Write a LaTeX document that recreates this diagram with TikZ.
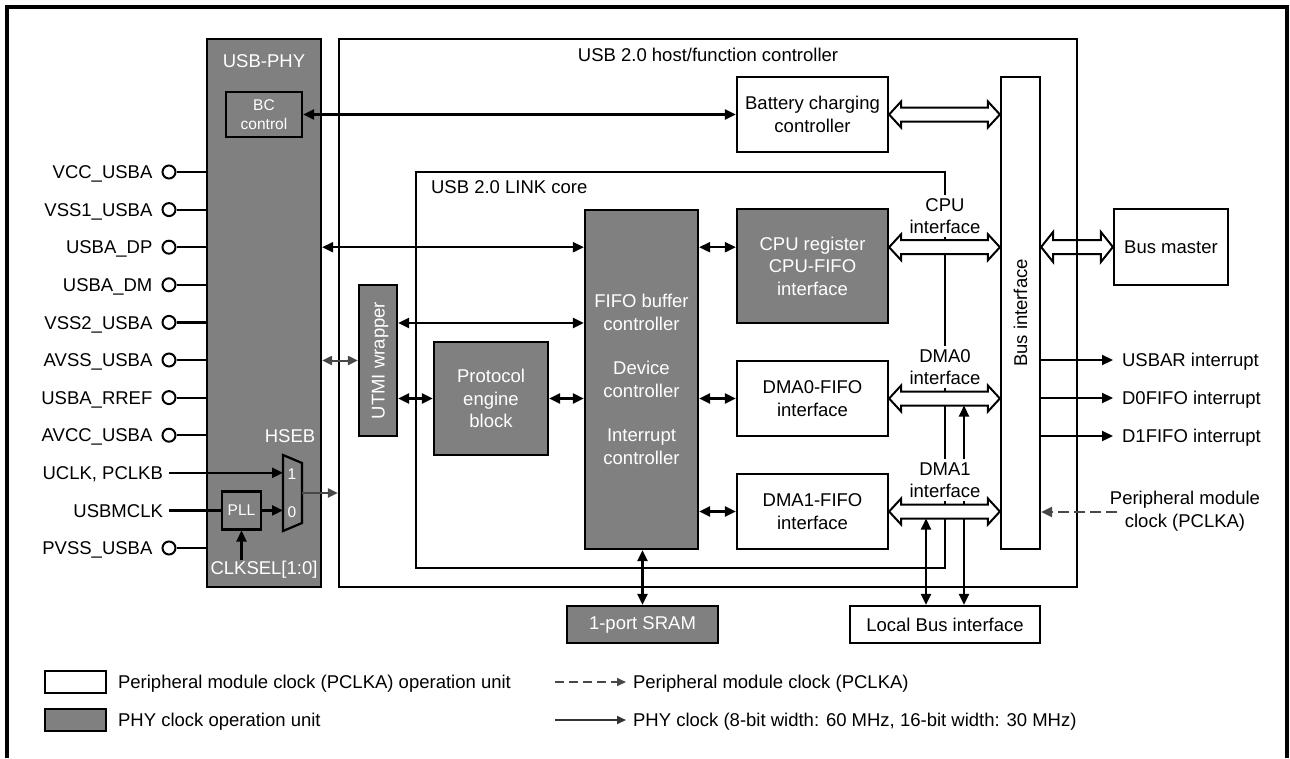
\documentclass[tikz,border=0pt]{standalone}
\usepackage{fontspec}
\setmainfont{Liberation Sans}
\usepackage{tikz}
\usetikzlibrary{arrows.meta, positioning, calc}

\definecolor{phygray}{RGB}{128,128,128}
\definecolor{wiregray}{RGB}{72,72,72}

\tikzset{
  block/.style={draw, inner sep=0pt},
  pclkunit/.style={draw, fill=white, align=center, inner sep=0pt},
  phyunit/.style={pclkunit, fill=phygray, text=white},
  smalltext/.style={font=\fontsize{15.5}{19}\selectfont},
  lbl/.style={inner sep=0pt, text height=13.3pt, text depth=0pt},
  iflbl/.style={fill=white, align=center, inner sep=3pt},
  pad/.style={draw, circle, fill=white, line width=2pt, minimum size=13pt, inner sep=0pt},
  graywire/.style={draw=wiregray, line width=2pt, >={Triangle[length=10pt,width=9pt]}},
  pclkwire/.style={draw=wiregray, line width=2.4pt, dash pattern=on 11pt off 5pt},
  busarrow/.style={line width=2pt, fill=white, to path={let \p1=(\tikztostart), \p2=(\tikztotarget) in
      (\x1,\y1) -- (\x1+12pt,\y1+#1pt) -- (\x1+12pt,\y1+7pt) -- (\x2-12pt,\y1+7pt) -- (\x2-12pt,\y1+#1pt)
      -- (\x2,\y1) -- (\x2-12pt,\y1-#1pt) -- (\x2-12pt,\y1-7pt) -- (\x1+12pt,\y1-7pt) -- (\x1+12pt,\y1-#1pt) -- cycle}},
  busarrow/.default=13
}

\begin{document}
\begin{tikzpicture}[x=1pt, y=-1pt, line width=2.2pt, font=\fontsize{18.5}{22.5}\selectfont,
    >={Triangle[length=11pt,width=10pt]}]
  \useasboundingbox (0,0) rectangle (1290,758);
  % outer frame, open at the bottom
  \draw[line width=3.2pt] (7,758) -- (7,7) -- (1287,7) -- (1287,758);

  % USB-PHY
  \node[phyunit, minimum width=114pt, minimum height=548pt] (phy) at (264,313) {};
  \node[lbl, anchor=base, text=white] (phy-t) at (264,67) {USB-PHY};
  \node[phyunit, smalltext, minimum width=76pt, minimum height=45pt] (bc) at (264,114.5) {BC\\control};
  \node[phyunit, smalltext, minimum width=39pt, minimum height=38pt] (pll) at (241.5,510.4) {PLL};
  \draw (283,455) -- (302,463) -- (302,523) -- (283,531) -- cycle;
  \coordinate (mux-in1) at (283,472.8);
  \coordinate (mux-in0) at (283,510.4);
  \coordinate (mux-out) at (302,493);
  \node[lbl, smalltext, text=white] (mux-1) at (292,473) {1};
  \node[lbl, smalltext, text=white] (mux-0) at (292,511) {0};
  \node[lbl, text=white] (hseb) at (290,436) {HSEB};
  \node[lbl, text=white] (clksel) at (264,568) {CLKSEL[1:0]};

  % pins
  \foreach \nm/\txt/\i in {vcc/VCC\_USBA/0, vssa/VSS1\_USBA/1, dp/USBA\_DP/2, dm/USBA\_DM/3,
      vssb/VSS2\_USBA/4, avss/AVSS\_USBA/5, rref/USBA\_RREF/6, avcc/AVCC\_USBA/7, pvss/PVSS\_USBA/10}{
    \node[pad] (\nm) at (169,{172+37.6*\i}) {};
    \node[lbl, left=8pt of \nm] (\nm-t) {\txt};
    \draw (\nm.east) -- (\nm.east -| phy.west);
  }
  \node[lbl, anchor=east] (uclk) at (164,472.8) {UCLK, PCLKB};
  \node[lbl, anchor=east] (mclk) at (164,510.4) {USBMCLK};
  \draw[->] ([xshift=5pt]uclk.east) -- (mux-in1);
  \draw ([xshift=5pt]mclk.east) -- (pll.west);
  \draw[->] (pll.east) -- (mux-in0);
  \draw[->] (clksel.north -| pll.south) -- (pll.south);

  % controller and link core
  \node[block, minimum width=738pt, minimum height=548pt] (ctrl) at (708,313) {};
  \node[lbl, anchor=base] (ctrl-t) at (708,61) {USB 2.0 host/function controller};
  \draw (416,172) rectangle (945,568);
  \node[lbl, anchor=base west] (link-t) at (430,193) {USB 2.0 LINK core};

  \node[pclkunit, minimum width=151pt, minimum height=75pt] (batt) at (812.5,114.5) {Battery charging\\controller};
  \node[pclkunit, minimum width=39pt, minimum height=472pt] (bus) at (1020.5,313) {};
  \node[lbl, rotate=90] (bus-t) at (bus.center) {Bus interface};
  \node[phyunit, minimum width=113pt, minimum height=339pt] (fifo) at (641.5,379.5) {FIFO buffer\\controller\\[22pt]Device\\controller\\[22pt]Interrupt\\controller};
  \node[phyunit, minimum width=38pt, minimum height=151pt] (utmi) at (378,360.5) {};
  \node[lbl, rotate=90, text=white] (utmi-t) at (utmi.center) {UTMI wrapper};
  \node[phyunit, minimum width=114pt, minimum height=113pt] (proto) at (491,398.5) {Protocol\\engine\\block};
  \node[phyunit, minimum width=151pt, minimum height=114pt] (cpu) at (812.5,266) {CPU register\\CPU-FIFO\\interface};
  \node[pclkunit, minimum width=151pt, minimum height=75pt] (dma0) at (812.5,398.5) {DMA0-FIFO\\interface};
  \node[pclkunit, minimum width=151pt, minimum height=75pt] (dma1) at (812.5,511.5) {DMA1-FIFO\\interface};
  \node[phyunit, minimum width=151pt, minimum height=37pt] (sram) at (642.5,624.5) {1-port SRAM};
  \node[pclkunit, minimum width=190pt, minimum height=37pt] (lbus) at (945,624.5) {Local Bus interface};
  \node[pclkunit, minimum width=114pt, minimum height=76pt] (bmaster) at (1171,247) {Bus master};

  % wires
  \coordinate (row-dp) at (0,247.2);
  \coordinate (row-utmi) at (0,323);
  \draw[<->] (bc.east) -- (batt.west);
  \draw[<->] (phy.east |- row-dp) -- (fifo.west |- row-dp);
  \draw[<->] (utmi.east |- row-utmi) -- (fifo.west |- row-utmi);
  \draw[graywire, <->] (phy.east |- utmi.west) -- (utmi.west);
  \draw[<->] (utmi.east |- proto.west) -- (proto.west);
  \draw[<->] (proto.east) -- (fifo.west |- proto.east);
  \draw[<->] (fifo.east |- row-dp) -- (cpu.west |- row-dp);
  \draw[<->] (fifo.east |- dma0.west) -- (dma0.west);
  \draw[<->] (fifo.east |- dma1.west) -- (dma1.west);
  \draw[<->] (sram.north |- fifo.south) -- (sram.north);
  \draw[graywire, ->] (mux-out) -- (mux-out -| ctrl.west);

  \coordinate (tap-dma0) at (964,405.5);
  \coordinate (tap-dma1) at (926,518.5);
  \draw[<->] (lbus.north -| tap-dma0) -- (tap-dma0);
  \draw[<->] (lbus.north -| tap-dma1) -- (tap-dma1);

  % buses
  \draw[busarrow] (batt.east) to (bus.west |- batt.east);
  \draw[busarrow] (cpu.east |- row-dp) to (bus.west |- row-dp);
  \draw[busarrow] (dma0.east) to (bus.west |- dma0.east);
  \draw[busarrow] (dma1.east) to (bus.west |- dma1.east);
  \draw[busarrow=15, fill=none] (bus.east |- bmaster.west) to (bmaster.west);

  \node[iflbl] (cpu-if) at (945,216) {CPU\\interface};
  \node[iflbl] (dma0-if) at (945,367) {DMA0\\interface};
  \node[iflbl] (dma1-if) at (945,480) {DMA1\\interface};

  % interrupts and clock
  \foreach \nm/\txt/\yy in {irq-usbar/USBAR interrupt/360, irq-d0/D0FIFO interrupt/398, irq-d1/D1FIFO interrupt/436}{
    \node[lbl, anchor=west] (\nm) at (1121,\yy) {\txt};
    \draw[->] (bus.east |- \nm.west) -- ([xshift=-8pt]\nm.west);
  }
  \node[align=center] (pclk-t) at (1185,511) {Peripheral module\\clock (PCLKA)};
  \coordinate (pclk-src) at (1117,512);
  \draw[pclkwire, ->] (pclk-src) -- (bus.east |- pclk-src);

  % legend
  \node[pclkunit, line width=1.8pt, minimum width=61pt, minimum height=22pt] (key-pclk) at (75.5,682) {};
  \node[lbl, anchor=west] (key-pclk-t) at (117,682) {Peripheral module clock (PCLKA) operation unit};
  \node[phyunit, line width=1.8pt, minimum width=61pt, minimum height=22pt] (key-phy) at (75.5,720) {};
  \node[lbl, anchor=west] (key-phy-t) at (117,720) {PHY clock operation unit};
  \node[lbl, anchor=west] (key-dash-t) at (632,682) {Peripheral module clock (PCLKA)};
  \node[lbl, anchor=west] (key-line-t) at (632,720) {PHY clock (8-bit width: 60 MHz, 16-bit width: 30 MHz)};
  \coordinate (key-dash-s) at (555,682);
  \coordinate (key-line-s) at (555,720);
  \draw[pclkwire, line width=1.8pt, dash pattern=on 9pt off 5pt, -{Triangle[length=9pt,width=8pt]}] (key-dash-s) -- ([xshift=-6pt]key-dash-t.west);
  \draw[draw=black!80, line width=1.8pt, -{Triangle[length=9pt,width=8pt]}] (key-line-s) -- ([xshift=-6pt]key-line-t.west);
\end{tikzpicture}
\end{document}
